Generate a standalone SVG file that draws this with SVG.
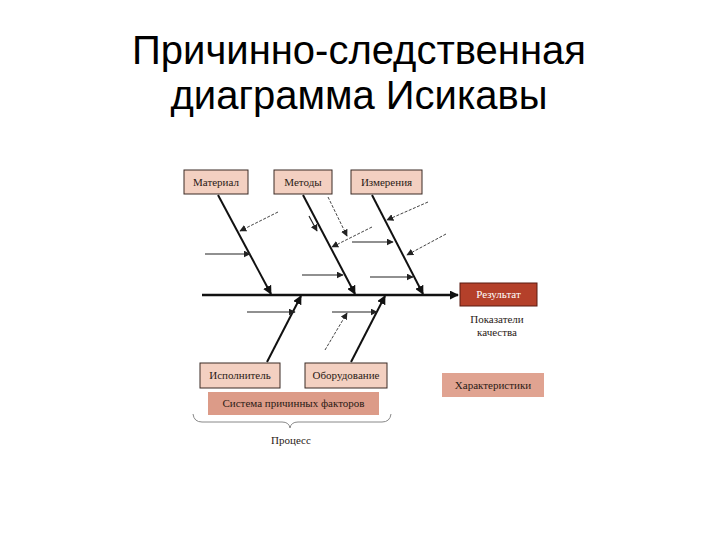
<svg xmlns="http://www.w3.org/2000/svg" width="720" height="540" viewBox="0 0 720 540">
<defs>
<marker id="ah" viewBox="0 0 10 10" refX="9" refY="5" markerWidth="9" markerHeight="9" markerUnits="userSpaceOnUse" orient="auto">
<path d="M0,0 L10,5 L0,10 z" fill="#111"/>
</marker>
<marker id="ahs" viewBox="0 0 10 10" refX="9" refY="5" markerWidth="7" markerHeight="7" markerUnits="userSpaceOnUse" orient="auto">
<path d="M0,0 L10,5 L0,10 z" fill="#222"/>
</marker>
</defs>
<style>
.title{font-family:"Liberation Sans",Arial,sans-serif;font-size:40px;fill:#000;text-anchor:middle}
.box{fill:#f3d0c1;stroke:#3a2a25;stroke-width:1}
.lbl{font-family:"Liberation Serif","Times New Roman",serif;font-size:11px;fill:#2a1a15;text-anchor:middle}
.bone{stroke:#111;stroke-width:2;fill:none;marker-end:url(#ah)}
.sub{stroke:#222;stroke-width:1.2;fill:none;marker-end:url(#ahs)}
.dsub{stroke:#444;stroke-width:1;fill:none;stroke-dasharray:3 1.5;marker-end:url(#ahs)}
</style>
<rect width="720" height="540" fill="#fff"/>
<text class="title" x="359" y="64">Причинно-следственная</text>
<text class="title" x="359" y="109">диаграмма Исикавы</text>

<g id="connectors">
<path class="bone" d="M202,295 L458,295" style="stroke-width:2.5"/>
<path class="bone" d="M218,195 L271,294"/>
<path class="bone" d="M303,195 L355,294"/>
<path class="bone" d="M372,195 L423,294"/>
<path class="bone" d="M267,362 L301,296"/>
<path class="bone" d="M351,362 L385,296"/>
<path class="dsub" d="M278,212 L240,231"/>
<path class="sub" d="M205,254 L250,254"/>
<path class="sub" d="M309,216 L317,231"/>
<path class="dsub" d="M328,197 L347,236"/>
<path class="dsub" d="M372,227 L332,247"/>
<path class="sub" d="M302,275 L343,275"/>
<path class="sub" d="M352,242 L393,242"/>
<path class="dsub" d="M428,202 L387,220"/>
<path class="dsub" d="M446,234 L407,255"/>
<path class="sub" d="M370,277 L413,277"/>
<path class="sub" d="M247,312 L295,312"/>
<path class="sub" d="M332,312 L377,312"/>
<path class="dsub" d="M325,350 L347,313"/>
<path d="M193,414 Q194,422 202,422 L282,422 Q289,422 290,428 Q291,422 298,422 L382,422 Q390,422 391,414" fill="none" stroke="#888" stroke-width="1"/>
</g>

<g id="material"><rect class="box" x="184" y="170" width="64" height="24"/><text class="lbl" x="216" y="186">Материал</text></g>
<g id="metody"><rect class="box" x="274" y="170" width="58" height="24"/><text class="lbl" x="303" y="186">Методы</text></g>
<g id="izmerenia"><rect class="box" x="351" y="170" width="71" height="24"/><text class="lbl" x="386.5" y="186">Измерения</text></g>
<g id="result"><rect x="460" y="283" width="77" height="23" fill="#b4402a" stroke="#5a1a10" stroke-width="1"/><text class="lbl" x="498.5" y="298" style="fill:#fff">Результат</text></g>
<g id="pokazateli"><text class="lbl" x="497" y="323">Показатели</text><text class="lbl" x="497" y="336">качества</text></g>
<g id="ispolnitel"><rect class="box" x="200" y="363" width="80" height="25"/><text class="lbl" x="240" y="379">Исполнитель</text></g>
<g id="oborudovanie"><rect class="box" x="305" y="363" width="82" height="25"/><text class="lbl" x="346" y="379">Оборудование</text></g>
<g id="sistema"><rect x="208" y="392" width="171" height="23" fill="#dc9b88"/><text class="lbl" x="293.5" y="407">Система причинных факторов</text></g>
<g id="harakteristiki"><rect x="442" y="373" width="102" height="24" fill="#e0a391"/><text class="lbl" x="493" y="389">Характеристики</text></g>
<g id="process"><text class="lbl" x="291" y="444">Процесс</text></g>
</svg>
